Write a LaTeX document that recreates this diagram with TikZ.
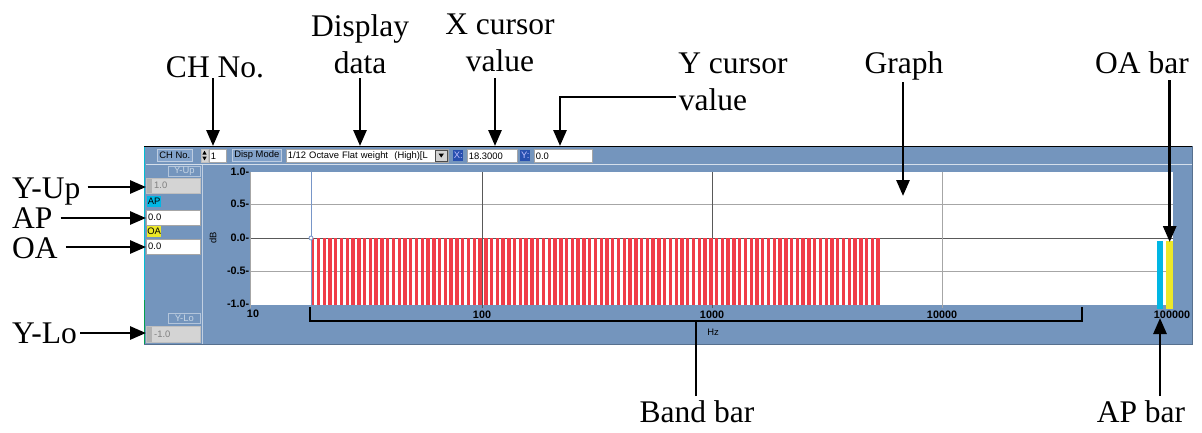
\documentclass[tikz,border=0pt]{standalone}
\usepackage{fontspec}
\setmainfont{Liberation Serif}
\newfontfamily\uifont{Liberation Sans}
\usetikzlibrary{arrows.meta}
\definecolor{panel}{RGB}{116,149,189}
\definecolor{btnc}{RGB}{130,162,202}
\definecolor{btnedge}{RGB}{190,205,225}
\definecolor{barred}{RGB}{240,60,72}
\definecolor{apcyan}{RGB}{0,182,228}
\definecolor{oayel}{RGB}{236,232,40}
\definecolor{lgray}{RGB}{212,212,212}
\definecolor{xblue}{RGB}{40,80,175}
\definecolor{cursorc}{RGB}{120,150,200}
\definecolor{edgecyan}{RGB}{0,190,210}
\definecolor{edgegreen}{RGB}{0,160,80}
\tikzset{
 lbl/.style={font=\fontsize{31.5}{37}\selectfont, inner sep=0pt},
 arr/.style={line width=2.8pt, -{Triangle[length=16pt,width=13pt]}},
 lin/.style={line width=2.8pt},
 ui/.style={font=\uifont\fontsize{9.4}{10}\selectfont, inner sep=0pt},
 btn/.style={fill=btnc, draw=btnedge, line width=0.6pt},
 wbox/.style={fill=white, draw=gray!70, line width=0.6pt},
 gbox/.style={fill=lgray, draw=gray!50, line width=0.6pt},
 tagbox/.style={draw=white!45!panel, line width=0.6pt, text=white!60!panel},
 ticklbl/.style={font=\uifont\bfseries\fontsize{10.8}{12}\selectfont, inner sep=0pt},
 grid/.style={draw=gray!70, line width=0.8pt},
 griddark/.style={draw=black!65, line width=0.8pt},
}
\begin{document}
\begin{tikzpicture}[x=1pt,y=-1pt]
\useasboundingbox (0,0) rectangle (1202,432);

% ---------- main panel ----------
\fill[panel] (144,146) rectangle (1192,344);
\draw[panel!75!black, line width=0.8pt] (1192,146) -- (1192,344) -- (144,344);
\draw[black, line width=1.6pt] (144,146.5) -- (1192,146.5);
\draw[white!70!panel, line width=0.9pt] (146,164) -- (1192,164);
\draw[edgecyan, line width=1.5pt] (144.5,147) -- (144.5,300);
\draw[edgegreen, line width=1.5pt] (144.5,300) -- (144.5,344);
\draw[white!55!panel, line width=0.8pt] (202,165) -- (202,344);

% ---------- toolbar ----------
\node[btn, ui, anchor=north west, minimum width=35, minimum height=12] (chbtn) at (157,149) {CH No.};
\node[gbox, anchor=north west, minimum width=7, minimum height=13, inner sep=0pt] (chspin) at (201,149) {};
\fill[black] (202.3,154.6) -- (206.7,154.6) -- (204.5,150.8) -- cycle;
\fill[black] (202.3,156.6) -- (206.7,156.6) -- (204.5,160.4) -- cycle;
\node[wbox, ui, anchor=north west, minimum height=13, text width=14pt, inner xsep=1.5pt, align=left] (chval) at (209,149) {1};
\node[btn, ui, anchor=north west, minimum width=49, minimum height=12] (dispbtn) at (232,149) {Disp Mode};
\node[wbox, ui, anchor=north west, minimum height=13, text width=159pt, inner xsep=1.5pt, align=left] (combo) at (286,149) {1/12 Octave Flat weight\ \ (High)[L};
\node[gbox, draw=black!70, anchor=north east, minimum width=12, minimum height=11, inner sep=0pt] (drop) at (447.5,150) {};
\fill[black] (438.5,153.5) -- (444,153.5) -- (441.25,157.5) -- cycle;
\node[fill=xblue, ui, text=white!75!blue, anchor=north west, minimum width=10, minimum height=11] (xlab) at (453,150) {X:};
\node[wbox, ui, anchor=north west, minimum height=13, text width=47pt, inner xsep=1.5pt, align=left] (xval) at (467,149) {18.3000};
\node[fill=xblue, ui, text=white!75!blue, anchor=north west, minimum width=10, minimum height=11] (ylab) at (520,150) {Y:};
\node[wbox, ui, anchor=north west, minimum height=13, text width=55pt, inner xsep=1.5pt, align=left] (yval) at (534,149) {0.0};

% ---------- left side controls ----------
\node[tagbox, ui, anchor=north west, minimum width=32, minimum height=10] (yuptag) at (168,166) {Y-Up};
\node[gbox, anchor=north west, minimum width=54, minimum height=15, inner sep=0pt] (yupbox) at (146,178) {};
\fill[gray!60] (146.5,178.5) rectangle (152,192.5);
\node[ui, text=gray, anchor=west] (yuptxt) at (154,185.5) {1.0};
\node[fill=apcyan, ui, anchor=north west, minimum width=14, minimum height=11] (aptag) at (147,196) {AP};
\node[wbox, anchor=north west, minimum width=54, minimum height=15, inner sep=0pt] (apbox) at (146,210) {};
\node[ui, anchor=west] (aptxt) at (148,217.5) {0.0};
\node[fill=oayel, ui, anchor=north west, minimum width=14, minimum height=11] (oatag) at (147,226) {OA};
\node[wbox, anchor=north west, minimum width=54, minimum height=15, inner sep=0pt] (oabox) at (146,239) {};
\node[ui, anchor=west] (oatxt) at (148,246.5) {0.0};
\node[tagbox, ui, anchor=north west, minimum width=32, minimum height=10] (ylotag) at (168,313) {Y-Lo};
\node[gbox, anchor=north west, minimum width=54, minimum height=16, inner sep=0pt] (ylobox) at (146,326) {};
\fill[gray!60] (146.5,326.5) rectangle (152,341.5);
\node[ui, text=gray, anchor=west] (ylotxt) at (154,334) {-1.0};

% ---------- plot ----------
\fill[white] (250,172) rectangle (1173,305);
\foreach \yy in {204,271} \draw[grid] (250,\yy) -- (1173,\yy);
\draw[griddark] (250,238) -- (1173,238);
\draw[griddark] (482,172) -- (482,308);
\draw[griddark] (712,172) -- (712,308);
\draw[grid] (942,172) -- (942,308);
\draw[grid] (250,172) -- (250,308);
\draw[grid] (1172,305) -- (1172,308);
\foreach \i in {0,...,98}
  \fill[barred] ({311+\i*5.77},238) rectangle ({314.4+\i*5.77},305);
\draw[cursorc, line width=1pt] (311,172) -- (311,305);
\draw[cursorc, line width=0.8pt, fill=white] (311,238) circle (2);
\node[fill=apcyan, anchor=north west, minimum width=6, minimum height=68, inner sep=0pt] (apbar) at (1157,241) {};
\node[fill=oayel, anchor=north west, minimum width=7, minimum height=68, inner sep=0pt] (oabar) at (1166,241) {};

\node[ticklbl, anchor=east] (t1) at (249.5,172) {1.0-};
\node[ticklbl, anchor=east] (t2) at (249.5,204) {0.5-};
\node[ticklbl, anchor=east] (t3) at (249.5,238) {0.0-};
\node[ticklbl, anchor=east] (t4) at (249.5,271) {-0.5-};
\node[ticklbl, anchor=east] (t5) at (249.5,304) {-1.0-};
\node[ui, rotate=90] (db) at (213,238) {dB};
\node[ticklbl] (x1) at (253,314) {10};
\node[ticklbl] (x2) at (482,315) {100};
\node[ticklbl] (x3) at (712,315) {1000};
\node[ticklbl] (x4) at (942,315) {10000};
\node[ticklbl] (x5) at (1172,315) {100000};
\node[ui] (hz) at (713,332) {Hz};

% ---------- band bracket ----------
\coordinate (bandmid) at (696,321);
\draw[line width=2.4pt] (310,307) -- (310,321) -- (1082,321) -- (1082,307);

% ---------- labels ----------
\node[lbl, anchor=base] (chlbl) at (215,77) {CH No.};
\node[lbl, anchor=north, align=center] (displbl) at (360,14) {Display\\data};
\node[lbl, anchor=north, align=center] (xcurlbl) at (500,14) {X cursor\\value};
\node[lbl, anchor=base] (ycurlbl) at (733,73) {Y cursor};
\node[lbl, anchor=base] (yvallbl) at (713,110) {value};
\node[lbl, anchor=base] (graphlbl) at (904,73) {Graph};
\node[lbl, anchor=base] (oalbl) at (1142,73) {OA bar};
\node[lbl, anchor=base west] (yuplbl) at (12,198) {Y-Up};
\node[lbl, anchor=base west] (aplbl) at (12,228) {AP};
\node[lbl, anchor=base west] (oalblL) at (12,258) {OA};
\node[lbl, anchor=base west] (ylolbl) at (12,343) {Y-Lo};
\node[lbl, anchor=base] (bandlbl) at (697,422) {Band bar};
\node[lbl, anchor=base] (apbarlbl) at (1141,422) {AP bar};

\coordinate (chtip) at (213,146);
\coordinate (disptip) at (360,146);
\coordinate (xtip) at (495,146);
\coordinate (ytip) at (560,146);
\coordinate (graphpt) at (903,196);
\coordinate (aptip) at (1160,318);

% ---------- connectors ----------
\draw[arr] (chtip |- 0,78) -- (chtip);
\draw[arr] (disptip |- 0,78) -- (disptip);
\draw[arr] (xtip |- 0,78) -- (xtip);
\draw[arr] ([xshift=-3pt]yvallbl.west |- 0,97) -- (ytip |- 0,97) -- (ytip);
\draw[arr] (graphpt |- 0,82) -- (graphpt);
\draw[arr] (oabar.north |- 0,80) -- ([yshift=-1pt]oabar.north);
\draw[arr] ([xshift=7pt]yuplbl.east |- 0,187) -- (yupbox.west |- 0,187);
\draw[arr] ([xshift=8pt]aplbl.east |- 0,218) -- (apbox.west |- 0,218);
\draw[arr] ([xshift=8pt]oalblL.east |- 0,247) -- (oabox.west |- 0,247);
\draw[arr] ([xshift=3pt]ylolbl.east |- 0,333) -- (ylobox.west |- 0,333);
\draw[arr] (aptip |- 0,396) -- (aptip);
\draw[lin] (bandmid |- 0,396) -- (bandmid);
\end{tikzpicture}
\end{document}
